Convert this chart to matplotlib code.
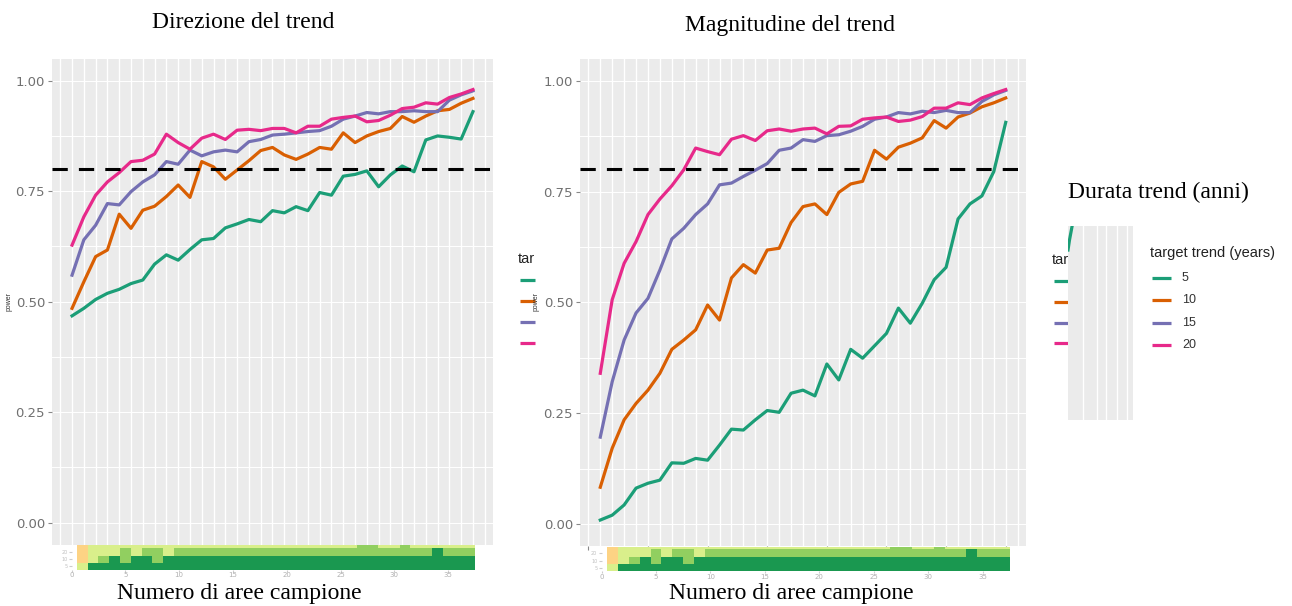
import numpy as np
import matplotlib
matplotlib.use('Agg')
import matplotlib.pyplot as plt
from matplotlib.colors import ListedColormap, BoundaryNorm
from matplotlib.transforms import Bbox

plt.rcParams['lines.scale_dashes'] = False

W, H = 1292, 606

# ---- data ----
n_areas = list(range(1, 36))
trend_labels = ['5', '10', '15', '20']
trend_colors = ['#1B9E77', '#D95F02', '#7570B3', '#E7298A']

dir_5 = [0.468, 0.485, 0.505, 0.519, 0.528, 0.541, 0.549, 0.585, 0.606, 0.594,
         0.618, 0.640, 0.643, 0.667, 0.676, 0.686, 0.681, 0.706, 0.701, 0.715,
         0.706, 0.747, 0.741, 0.784, 0.788, 0.796, 0.760, 0.787, 0.807, 0.794,
         0.866, 0.875, 0.872, 0.868, 0.930]
dir_10 = [0.485, 0.545, 0.602, 0.617, 0.698, 0.666, 0.707, 0.716, 0.738, 0.764,
          0.736, 0.817, 0.805, 0.777, 0.798, 0.819, 0.842, 0.849, 0.832, 0.822,
          0.834, 0.849, 0.845, 0.882, 0.860, 0.875, 0.885, 0.892, 0.919, 0.906,
          0.920, 0.932, 0.935, 0.949, 0.960]
dir_15 = [0.560, 0.640, 0.673, 0.722, 0.719, 0.749, 0.771, 0.787, 0.817, 0.811,
          0.843, 0.830, 0.839, 0.843, 0.839, 0.862, 0.867, 0.877, 0.879, 0.882,
          0.885, 0.887, 0.897, 0.913, 0.920, 0.928, 0.925, 0.930, 0.930, 0.932,
          0.930, 0.930, 0.956, 0.968, 0.977]
dir_20 = [0.628, 0.692, 0.741, 0.771, 0.792, 0.817, 0.820, 0.834, 0.879, 0.860,
          0.845, 0.870, 0.879, 0.867, 0.888, 0.890, 0.887, 0.892, 0.892, 0.882,
          0.897, 0.897, 0.913, 0.917, 0.920, 0.907, 0.910, 0.922, 0.937, 0.940,
          0.950, 0.947, 0.962, 0.970, 0.980]

mag_5 = [0.009, 0.020, 0.043, 0.081, 0.092, 0.099, 0.138, 0.137, 0.148, 0.144,
         0.178, 0.214, 0.212, 0.235, 0.256, 0.252, 0.295, 0.302, 0.289, 0.361,
         0.325, 0.394, 0.374, 0.402, 0.430, 0.487, 0.453, 0.498, 0.551, 0.579,
         0.688, 0.722, 0.740, 0.795, 0.906]
mag_10 = [0.083, 0.171, 0.235, 0.272, 0.302, 0.340, 0.394, 0.415, 0.438, 0.494,
          0.460, 0.555, 0.585, 0.566, 0.618, 0.622, 0.680, 0.716, 0.722, 0.698,
          0.748, 0.767, 0.773, 0.843, 0.823, 0.850, 0.859, 0.871, 0.910, 0.893,
          0.918, 0.927, 0.941, 0.950, 0.961]
mag_15 = [0.196, 0.321, 0.415, 0.476, 0.509, 0.573, 0.643, 0.667, 0.698, 0.722,
          0.765, 0.769, 0.784, 0.798, 0.813, 0.843, 0.848, 0.867, 0.863, 0.876,
          0.878, 0.886, 0.897, 0.913, 0.918, 0.928, 0.925, 0.931, 0.928, 0.933,
          0.928, 0.928, 0.953, 0.968, 0.978]
mag_20 = [0.340, 0.506, 0.588, 0.637, 0.698, 0.733, 0.763, 0.799, 0.848, 0.840,
          0.833, 0.868, 0.876, 0.865, 0.887, 0.891, 0.886, 0.891, 0.893, 0.880,
          0.897, 0.898, 0.913, 0.916, 0.918, 0.908, 0.911, 0.919, 0.938, 0.938,
          0.950, 0.946, 0.961, 0.971, 0.980]

power_target = 0.8

# heatmap strip under each panel (0 pale orange, 1 light, 2 mid green, 3 dark green)
heat_row0 = [0] + [1] * 25 + [2, 2] + [1, 1, 2] + [1] * 6
heat_row1 = [0, 1, 1, 1, 2, 1, 2, 2, 1] + [2] * 24 + [3] + [2] * 3
heat_row2 = [0, 1, 2, 3, 2, 3, 3, 2] + [3] * 29
heat_row3 = [1] + [3] * 36
heat_cols = list(range(1, 38))
heat_colors = ['#FDD384', '#D9EF8B', '#91CF60', '#1A9850']

strip_green_x = [0, 1.5, 3, 4.5]
strip_green_y = [170, 180, 188, 196]

fig = plt.figure(figsize=(W / 100, H / 100), dpi=100)


def rect(x0, y0, x1, y1):
    return [x0 / W, 1 - y1 / H, (x1 - x0) / W, (y1 - y0) / H]


def panel(box, series, show_xticks):
    ax = fig.add_axes(rect(*box))
    ax.set_facecolor('#EBEBEB')
    for x in range(-1, 38):
        ax.axvline(x, color='white', lw=1.0, zorder=1)
    for y in np.arange(0, 1.01, 0.125):
        ax.axhline(y, color='white', lw=0.7, zorder=1)
    for v, c in zip(series, trend_colors):
        ax.plot(n_areas, v, color=c, lw=2.3, zorder=3, solid_joinstyle='round')
    ax.axhline(power_target, color='black', lw=2.2, dashes=(11, 8), zorder=4)
    span = n_areas[-1] - n_areas[0]
    ax.set_xlim(n_areas[0] - 0.05 * span, n_areas[-1] + 0.05 * span)
    ax.set_ylim(-0.05, 1.05)
    ax.set_yticks([0, 0.25, 0.5, 0.75, 1.0])
    ax.set_yticklabels(['0.00', '0.25', '0.50', '0.75', '1.00'])
    ax.tick_params(axis='y', length=3, color='#888888', labelcolor='#707070',
                   labelsize=9.5, pad=2)
    ax.set_xticks(range(0, 36, 5))
    ax.set_xticklabels([])
    ax.tick_params(axis='x', length=3 if show_xticks else 0, color='#888888')
    for s in ax.spines.values():
        s.set_visible(False)
    return ax


def heat(box):
    ax = fig.add_axes(rect(*box))
    data = np.array([heat_row3, heat_row2, heat_row1, heat_row0])
    xe = np.arange(heat_cols[0] - 0.5, heat_cols[-1] + 1.0, 1.0)
    ye = [0, 7, 14, 22, 24.5]
    cmap = ListedColormap(heat_colors)
    norm = BoundaryNorm([-0.5, 0.5, 1.5, 2.5, 3.5], 4)
    ax.pcolormesh(xe, ye, data, cmap=cmap, norm=norm)
    ax.set_xlim(0, heat_cols[-1] + 0.5)
    ax.set_ylim(0, 24.5)
    ax.set_xticks(range(0, 36, 5))
    ax.tick_params(axis='x', length=1.5, color='#cccccc', labelcolor='#b0b0b0',
                   labelsize=5, pad=0.5)
    ax.set_yticks([3.5, 10.5, 18])
    ax.set_yticklabels(['5', '10', '20'])
    ax.tick_params(axis='y', length=2, color='#cccccc', labelcolor='#c0c0c0',
                   labelsize=3.5, pad=1)
    for s in ax.spines.values():
        s.set_visible(False)
    return ax


panel((52, 58.6, 493, 544.8), [dir_5, dir_10, dir_15, dir_20], False)
panel((580, 58.5, 1026, 546.2), [mag_5, mag_10, mag_15, mag_20], True)
heat((71.6, 545, 475, 569.5))
heat((601.5, 547, 1010, 571))

# leftover grey strip next to the legend
ax_s = fig.add_axes(rect(1068, 226, 1133, 420))
ax_s.set_facecolor('#EBEBEB')
ax_s.set_xlim(0, 65)
ax_s.set_ylim(0, 194)
for x in [15, 29, 38, 49, 59]:
    ax_s.axvline(x, color='white', lw=1.0)
ax_s.plot(strip_green_x, strip_green_y, color=trend_colors[0], lw=2.3)
ax_s.set_xticks([])
ax_s.set_yticks([])
for s in ax_s.spines.values():
    s.set_visible(False)

# overlay in pixel coordinates for legends and labels
ov = fig.add_axes([0, 0, 1, 1], zorder=-1)
ov.set_xlim(0, W)
ov.set_ylim(H, 0)
ov.axis('off')

serif = 'Liberation Serif'
sans = 'Liberation Sans'
fig.text(243 / W, 1 - 22 / H, 'Direzione del trend', ha='center', va='center',
         family=serif, fontsize=17)
fig.text(790 / W, 1 - 25 / H, 'Magnitudine del trend', ha='center', va='center',
         family=serif, fontsize=17)
fig.text(239 / W, 1 - 594 / H, 'Numero di aree campione', ha='center', va='center',
         family=serif, fontsize=17)
fig.text(791 / W, 1 - 593 / H, 'Numero di aree campione', ha='center', va='center',
         family=serif, fontsize=17)
fig.text(1158 / W, 1 - 192 / H, 'Durata trend (anni)', ha='center', va='center',
         family=serif, fontsize=17)

# cut-off y axis titles
for xp in (9, 536):
    fig.text(xp / W, 1 - 302 / H, 'power', rotation=90, ha='center', va='center',
             family=sans, fontsize=5, color='#333333')

# cut-off legends (only the start of the title shows)
for x0, x1, ty, ky in ((518, 535, 259, [280, 301, 322, 343]),
                       (1052, 1068, 260, [281, 302, 323, 343])):
    t = fig.text(x0 / W, 1 - ty / H, 'tar', ha='left', va='center',
                 family=sans, fontsize=10.5, color='#222222')
    t.set_clip_on(True)
    t.set_clip_box(Bbox.from_extents(0, 0, x1, H))
    for y, c in zip(ky, trend_colors):
        ov.plot([x0 + 2, x1], [y, y], color=c, lw=2.3, solid_capstyle='butt')

# full legend
fig.text(1150 / W, 1 - 253 / H, 'target trend (years)', ha='left', va='center',
         family=sans, fontsize=10.5, color='#222222')
for lab, c, y in zip(trend_labels, trend_colors, [278, 300, 323, 345]):
    ov.plot([1152, 1171], [y, y], color=c, lw=2.3, solid_capstyle='butt')
    fig.text(1182 / W, 1 - y / H, lab, ha='left', va='center', family=sans,
             fontsize=9, color='#333333')

fig.savefig('out.png', dpi=100)
